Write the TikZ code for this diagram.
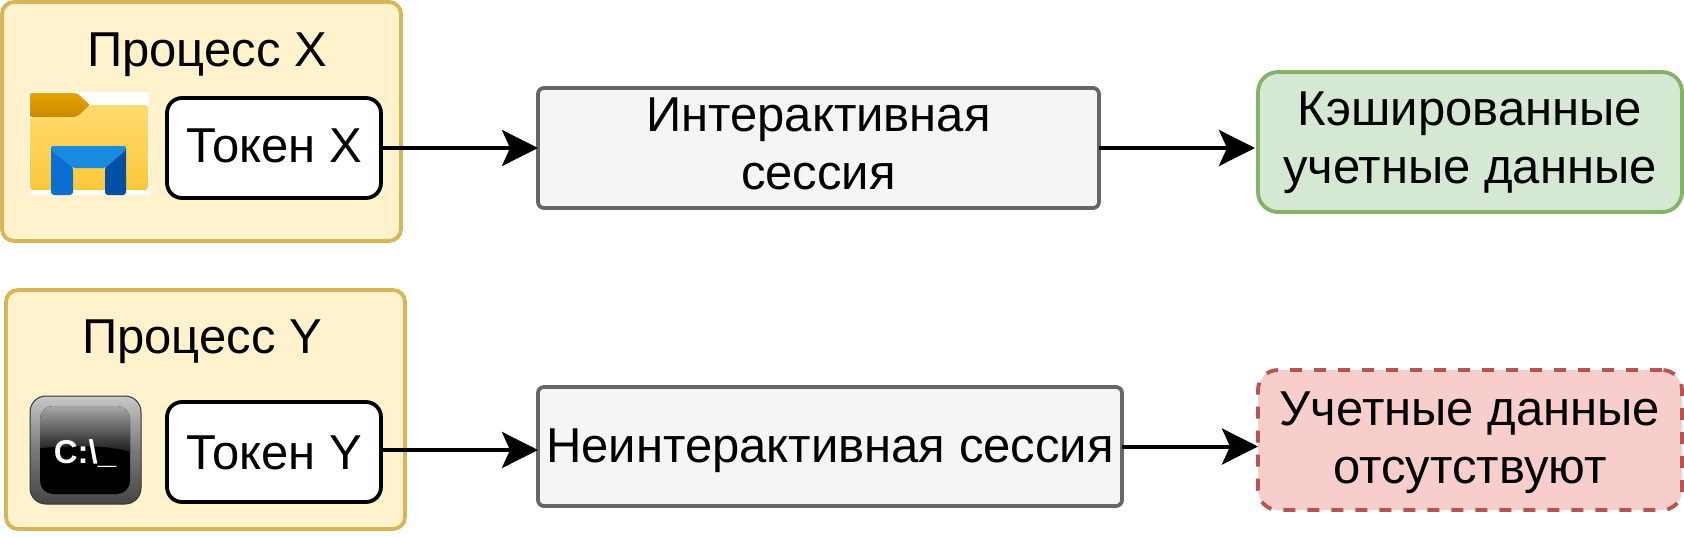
\documentclass[tikz,border=0pt]{standalone}
\usepackage{fontspec}
\setmainfont{Liberation Sans}
\usetikzlibrary{arrows.meta,calc}
\definecolor{yfill}{HTML}{FFF2CC}\definecolor{yline}{HTML}{D6B656}
\definecolor{gfill}{HTML}{D5E8D4}\definecolor{gline}{HTML}{82B366}
\definecolor{rfill}{HTML}{F8CECC}\definecolor{rline}{HTML}{B85450}
\definecolor{sfill}{HTML}{F5F5F5}\definecolor{sline}{HTML}{666666}
\definecolor{E0}{HTML}{E3A600}\definecolor{E1}{HTML}{CC8800}
\definecolor{B0}{HTML}{FFDB6E}\definecolor{B1}{HTML}{FBC83A}
\definecolor{B2}{HTML}{0A6FD0}\definecolor{B3}{HTML}{0050A4}\definecolor{B4}{HTML}{1A8BE0}
\definecolor{G0}{HTML}{C8C8C8}\definecolor{G1}{HTML}{454545}\definecolor{G2}{HTML}{333333}
\definecolor{G3}{HTML}{A8A8A8}\definecolor{G4}{HTML}{1A1A1A}
\tikzset{
  x=1pt,y=-1pt,
  base/.style={rectangle,inner sep=0pt,outer sep=0pt,line width=3.8pt,align=center,
    font=\fontsize{49}{58}\selectfont,text=black},
  tb/.style={text height=40pt+#1pt,text depth=40pt-#1pt},
  procbox/.style={base,draw=yline,fill=yfill,rounded corners=12pt},
  tokenbox/.style={base,draw=black,fill=white,rounded corners=15pt},
  sessbox/.style={base,draw=sline,fill=sfill,rounded corners=6pt},
  goodbox/.style={base,draw=gline,fill=gfill,rounded corners=20pt},
  badbox/.style={base,draw=rline,fill=rfill,rounded corners=20pt,dash pattern=on 12pt off 12pt},
  label/.style={base,anchor=base},
  conn/.style={line width=4pt,draw=black,-{Stealth[length=36pt,width=36pt,inset=8pt]}},
}
\newcommand{\boxat}[6]{% style,name,x1,y1,x2,y2 (stroke centre lines), text follows
  \node[#1,minimum width=#5-#3,minimum height=#6-#4] (#2) at ({(#3+#5)/2},{(#4+#6)/2})}
\begin{document}
\begin{tikzpicture}
\useasboundingbox (0,0) rectangle (1684,536);
\fill[white] (0,0) rectangle (1684,536);

% process boxes
\boxat{procbox}{pX}{2}{2}{401}{241} {};
\boxat{procbox}{pY}{6}{290}{405}{529} {};
\node[label] (tX) at (207,66) {Процесс X};
\node[label] (tY) at (202,353) {Процесс Y};

% tokens
\boxat{tokenbox,tb=14}{kX}{167}{98}{381}{198} {Токен X};
\boxat{tokenbox,tb=17}{kY}{167}{402}{381}{502} {Токен Y};

% sessions
\boxat{sessbox,tb=43}{sI}{538}{88}{1099}{208} {Интерактивная\\сессия};
\boxat{sessbox,tb=15.5}{sN}{538}{387}{1122}{506} {Неинтерактивная сессия};

% results
\boxat{goodbox,tb=43}{cG}{1258}{72}{1682}{212} {Кэшированные\\учетные данные};
\boxat{badbox,tb=46}{cR}{1258}{370}{1682}{510} {Учетные данные\\отсутствуют};

% connectors
\coordinate (kYout) at ($(kY.east)+(0,-2)$);
\draw[conn] (kX.east) -- (kX.east -| sI.west);
\draw[conn,shorten >=3pt] (sI.east) -- (sI.east -| cG.west);
\draw[conn] (kYout) -- (kYout -| sN.west);
\draw[conn] (sN.east) -- (sN.east -| cR.west);

% folder icon
\fill[white] (29,92) rectangle (149,195);
\shade[top color=E0,bottom color=E1,rounded corners=2pt]
  (30,93) -- (77,93) -- (90,105) -- (77,117) -- (30,117) -- cycle;
\shade[top color=B0,bottom color=B1,rounded corners=3pt]
  (30,117) -- (77,117) -- (90,105) -- (148,105) -- (148,190) -- (30,190) -- cycle;
\fill[B2,rounded corners=3pt] (51,195) -- (51,146) -- (62,146) -- (73,168) -- (73,195) -- cycle;
\fill[B3,rounded corners=3pt] (126,195) -- (126,146) -- (115,146) -- (105,168) -- (105,195) -- cycle;
\fill[B4,rounded corners=2pt] (51,150) -- (51,146) -- (126,146) -- (126,150) -- (105,168) -- (73,168) -- cycle;

% console icon
\shade[top color=G0,bottom color=G1,middle color=G1!60!G0,rounded corners=16pt,draw=G2,line width=1pt]
  (30,396) rectangle (141,504);
\fill[black,rounded corners=13pt] (40,406) rectangle (130,494);
\begin{scope}
  \clip[rounded corners=13pt] (40,406) rectangle (130,494);
  \shade[top color=G3,bottom color=G4] (40,406) -- (130,406) -- (130,452) .. controls (105,444) and (70,446) .. (40,448) -- cycle;
\end{scope}
\node[inner sep=0pt,anchor=base,text=white,font=\fontsize{33}{33}\selectfont\bfseries] (cmdtext) at (85,463) {C:\textbackslash\_};
\end{tikzpicture}
\end{document}
